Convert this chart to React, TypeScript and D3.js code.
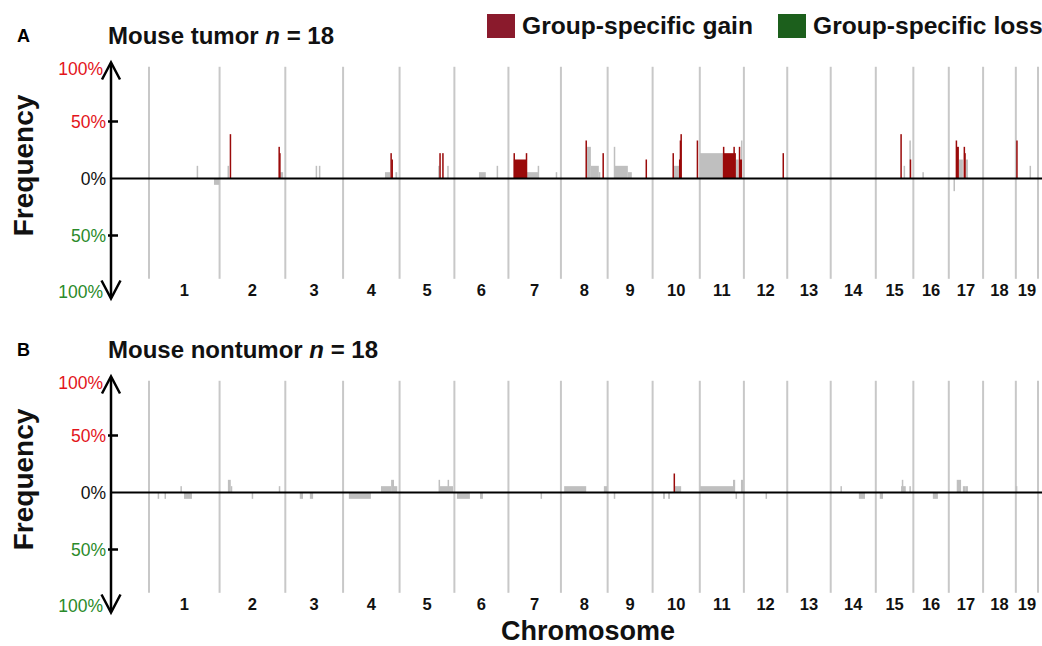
import React, { useRef, useEffect } from "react";
import * as d3 from "d3";

// mouse chromosomes and their lengths (Mb)
const chromosomes = ["1", "2", "3", "4", "5", "6", "7", "8", "9", "10", "11", "12", "13", "14", "15", "16", "17", "18", "19"];
const chromLengthsMb = [195.5, 182.1, 160.0, 156.5, 151.8, 149.7, 145.4, 129.4, 124.6, 130.7, 122.1, 120.1, 120.4, 124.9, 104.0, 98.2, 95.0, 90.7, 61.4];

const yTicks = [1, 0.5, 0, -0.5, -1];
const yTickLabels = ["100%", "50%", "0%", "50%", "100%"];
const sampleCount = 18;

// [chromosome, start Mb, end Mb, samples altered (negative = loss), group-specific gain?]
const tumorSegments: [string, number, number, number, boolean][] = [
  ["1", 132, 135, 2, false],
  ["1", 180, 195, -1, false],
  ["2", 22, 25, 2, false],
  ["2", 28, 32, 7, true],
  ["2", 163, 166, 5, true],
  ["2", 165, 168, 4, true],
  ["2", 168, 176, 1, false],
  ["3", 84, 87, 2, false],
  ["3", 93, 96, 2, false],
  ["4", 116, 130, 1, false],
  ["4", 131, 134, 4, true],
  ["4", 134, 137, 3, true],
  ["4", 145, 150, 1, false],
  ["5", 107, 110, 2, false],
  ["5", 110, 113, 4, true],
  ["5", 118, 121, 4, true],
  ["5", 132, 136, 2, false],
  ["6", 68, 87, 1, false],
  ["6", 117, 119, 2, false],
  ["7", 49, 82, 1, false],
  ["7", 81, 84, 2, false],
  ["7", 131, 134, 1, false],
  ["7", 15, 49, 3, true],
  ["7", 14, 16, 4, true],
  ["7", 48, 50, 4, true],
  ["8", 71, 83, 5, false],
  ["8", 83, 105, 2, false],
  ["8", 105, 108, 1, false],
  ["8", 68, 71, 6, true],
  ["8", 115, 118, 4, true],
  ["9", 17, 19, 5, false],
  ["9", 20, 56, 2, false],
  ["9", 56, 67, 1, false],
  ["9", 105, 108, 3, true],
  ["10", 58, 73, 2, false],
  ["10", 55, 58, 4, true],
  ["10", 73, 75, 3, true],
  ["10", 75, 77, 6, true],
  ["10", 77, 79, 7, true],
  ["10", 122, 125, 6, true],
  ["11", 0, 64, 4, false],
  ["11", 100, 106, 3, false],
  ["11", 114, 116, 6, false],
  ["11", 64, 100, 4, true],
  ["11", 64, 67, 5, true],
  ["11", 93, 96, 5, true],
  ["11", 108, 117, 3, true],
  ["11", 108, 111, 5, true],
  ["12", 107, 110, 4, true],
  ["15", 77, 80, 2, false],
  ["15", 93, 95, 6, false],
  ["15", 68, 71, 7, true],
  ["15", 94, 97, 3, true],
  ["16", 25, 29, 1, false],
  ["17", 13, 15, -2, false],
  ["17", 28, 39, 3, false],
  ["17", 47, 53, 3, false],
  ["17", 19, 21, 6, true],
  ["17", 21, 28, 5, true],
  ["17", 41, 43, 5, true],
  ["17", 42, 47, 4, true],
  ["19", 1, 4, 6, true],
  ["19", 38, 41, 2, false],
];

const nontumorSegments: [string, number, number, number, boolean][] = [
  ["1", 24, 27, -1, false],
  ["1", 43, 46, -1, false],
  ["1", 87, 90, 1, false],
  ["1", 97, 119, -1, false],
  ["2", 23, 31, 2, false],
  ["2", 31, 34, 1, false],
  ["2", 89, 91, -1, false],
  ["2", 164, 166, 1, false],
  ["3", 40, 49, -1, false],
  ["3", 68, 77, -1, false],
  ["4", 16, 77, -1, false],
  ["4", 105, 133, 1, false],
  ["4", 133, 141, 2, false],
  ["4", 141, 150, 1, false],
  ["5", 108, 110, 2, false],
  ["5", 112, 148, 1, false],
  ["5", 133, 135, 2, false],
  ["6", 7, 43, -1, false],
  ["6", 71, 79, -1, false],
  ["7", 89, 92, -1, false],
  ["8", 9, 70, 1, false],
  ["8", 119, 128, 1, false],
  ["9", 17, 20, -1, false],
  ["10", 29, 34, -1, false],
  ["10", 43, 48, -1, false],
  ["10", 60, 79, 1, false],
  ["10", 58, 61, 3, true],
  ["11", 1, 92, 1, false],
  ["11", 92, 98, 2, false],
  ["11", 99, 101, -1, false],
  ["11", 114, 120, 2, false],
  ["12", 60, 63, -1, false],
  ["14", 27, 29, 1, false],
  ["14", 78, 95, -1, false],
  ["15", 11, 20, -1, false],
  ["15", 70, 83, 1, false],
  ["15", 72, 74, 2, false],
  ["15", 93, 96, 1, false],
  ["16", 54, 68, -1, false],
  ["17", 22, 34, 2, false],
  ["17", 39, 47, 1, false],
  ["17", 47, 53, 1, false],
  ["19", 0, 3, 1, false],
];

const FONT = "'Liberation Sans', Arial, Helvetica, sans-serif";

const App = () => {
  const svgRef = useRef(null);

  useEffect(() => {
    const svg = d3.select(svgRef.current);
    svg.selectAll("*").remove();

    const width = 1042;
    const height = 646;
    svg.attr("width", width).attr("height", height);

    const offsets = d3.cumsum(chromLengthsMb);
    const starts = chromLengthsMb.map((d, i) => offsets[i] - d);
    const totalMb = offsets[offsets.length - 1];
    const startOf = new Map(chromosomes.map((c, i) => [c, starts[i]]));

    const x = d3.scaleLinear().domain([0, totalMb]).range([149, 1038]);
    const axisX = 111;

    // legend
    const legend = [
      { label: "Group-specific gain", color: "#8a1a2c", x: 487 },
      { label: "Group-specific loss", color: "#1c5f1c", x: 778 },
    ];
    legend.forEach((l) => {
      svg.append("rect").attr("x", l.x).attr("y", 14).attr("width", 28).attr("height", 24).attr("fill", l.color);
      svg
        .append("text")
        .attr("x", l.x + 35)
        .attr("y", 34)
        .attr("font-family", FONT)
        .attr("font-weight", "bold")
        .attr("font-size", 24.6)
        .attr("fill", "#111")
        .text(l.label);
    });

    const panels = [
      { letter: "A", title: "Mouse tumor ", zero: 178.5, data: tumorSegments },
      { letter: "B", title: "Mouse nontumor ", zero: 492.5, data: nontumorSegments },
    ];

    panels.forEach((p) => {
      const g = svg.append("g");
      const y = d3.scaleLinear().domain([-1, 1]).range([p.zero + 114, p.zero - 114]);

      g.append("text")
        .attr("x", 17)
        .attr("y", p.zero - 137)
        .attr("font-family", FONT)
        .attr("font-weight", "bold")
        .attr("font-size", 18)
        .text(p.letter);

      const title = g
        .append("text")
        .attr("x", 108)
        .attr("y", p.zero - 135)
        .attr("font-family", FONT)
        .attr("font-weight", "bold")
        .attr("font-size", 24)
        .attr("fill", "#111");
      title.append("tspan").text(p.title);
      title.append("tspan").attr("font-style", "italic").text("n");
      title.append("tspan").text(" = " + sampleCount);

      g.append("text")
        .attr("transform", `translate(33, ${p.zero - 13}) rotate(-90)`)
        .attr("text-anchor", "middle")
        .attr("font-family", FONT)
        .attr("font-weight", "bold")
        .attr("font-size", 28)
        .attr("fill", "#111")
        .text("Frequency");

      // chromosome boundaries
      const bounds = [...starts, totalMb];
      g.selectAll("line.bound")
        .data(bounds)
        .enter()
        .append("line")
        .attr("x1", (d) => x(d))
        .attr("x2", (d) => x(d))
        .attr("y1", y(0.98))
        .attr("y2", y(-0.88))
        .attr("stroke", "#c8c8c8")
        .attr("stroke-width", 2);

      // chromosome labels
      g.selectAll("text.chr")
        .data(chromosomes)
        .enter()
        .append("text")
        .attr("x", (d, i) => x(starts[i] + chromLengthsMb[i] / 2))
        .attr("y", p.zero + 117)
        .attr("text-anchor", "middle")
        .attr("font-family", FONT)
        .attr("font-weight", "bold")
        .attr("font-size", 16.5)
        .attr("fill", "#111")
        .text((d) => d);

      // frequency bars: shared first, group-specific on top
      const sorted = [...p.data].sort((a, b) => Number(a[4]) - Number(b[4]));
      g.selectAll("rect.seg")
        .data(sorted)
        .enter()
        .append("rect")
        .attr("x", (d) => x(startOf.get(d[0])! + d[1]))
        .attr("width", (d) => Math.max(x(d[2]) - x(d[1]), 1.5))
        .attr("y", (d) => (d[3] > 0 ? y(d[3] / sampleCount) : y(0)))
        .attr("height", (d) => Math.abs(y(d[3] / sampleCount) - y(0)))
        .attr("fill", (d) => (d[4] ? "#9a0a0a" : "#bfbfbf"));

      // zero line
      g.append("line")
        .attr("x1", axisX)
        .attr("x2", width)
        .attr("y1", y(0))
        .attr("y2", y(0))
        .attr("stroke", "#000")
        .attr("stroke-width", 2);

      // double-headed y axis
      const top = p.zero - 116;
      const bottom = p.zero + 120;
      g.append("line")
        .attr("x1", axisX)
        .attr("x2", axisX)
        .attr("y1", top + 1)
        .attr("y2", bottom - 1)
        .attr("stroke", "#000")
        .attr("stroke-width", 2.5);
      g.append("path")
        .attr("d", `M${axisX - 9},${top + 17}L${axisX},${top}L${axisX + 9},${top + 17}`)
        .attr("fill", "none")
        .attr("stroke", "#000")
        .attr("stroke-width", 2.5);
      g.append("path")
        .attr("d", `M${axisX - 9.5},${bottom - 18}L${axisX},${bottom}L${axisX + 9.5},${bottom - 18}`)
        .attr("fill", "none")
        .attr("stroke", "#000")
        .attr("stroke-width", 2.5);

      g.selectAll("line.tick")
        .data([0.5, -0.5])
        .enter()
        .append("line")
        .attr("x1", axisX - 3)
        .attr("x2", axisX + 7)
        .attr("y1", (d) => y(d))
        .attr("y2", (d) => y(d))
        .attr("stroke", "#000")
        .attr("stroke-width", 2.5);

      g.selectAll("text.ylab")
        .data(yTicks)
        .enter()
        .append("text")
        .attr("x", (d) => (Math.abs(d) === 1 ? 103 : 106))
        .attr("y", (d) => y(d === 1 ? 0.96 : d === -1 ? -0.99 : d))
        .attr("dy", "0.36em")
        .attr("text-anchor", "end")
        .attr("font-family", FONT)
        .attr("font-size", 17.5)
        .attr("fill", (d) => (d > 0 ? "#e3141b" : d < 0 ? "#2a8a2a" : "#111"))
        .text((d, i) => yTickLabels[i]);
    });

    svg
      .append("text")
      .attr("x", 588)
      .attr("y", 640)
      .attr("text-anchor", "middle")
      .attr("font-family", FONT)
      .attr("font-weight", "bold")
      .attr("font-size", 27)
      .attr("fill", "#111")
      .text("Chromosome");
  }, []);

  return (
    <div style={{ position: "absolute", left: 0, top: 0, background: "#fff" }}>
      <svg ref={svgRef} style={{ display: "block" }}></svg>
    </div>
  );
};

export default App;
